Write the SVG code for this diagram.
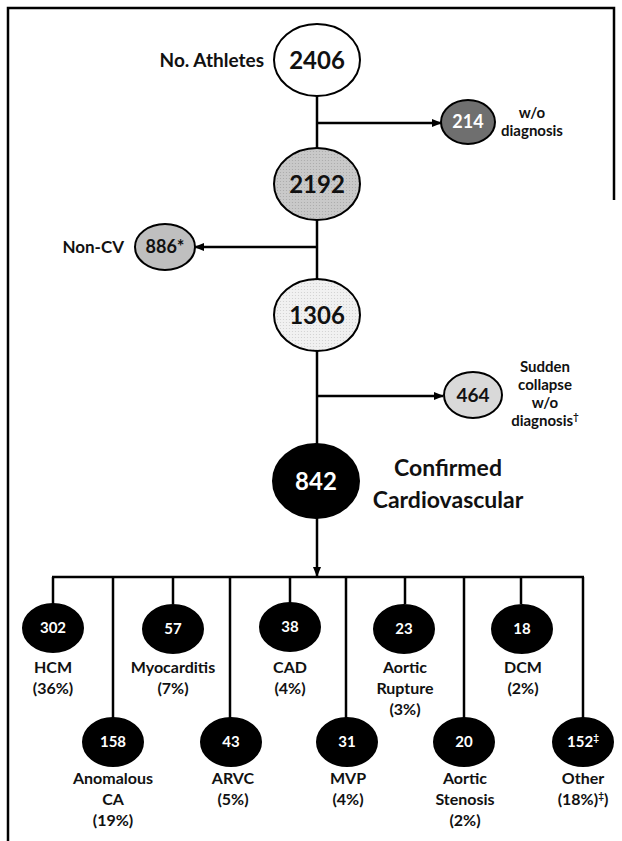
<svg xmlns="http://www.w3.org/2000/svg" width="622" height="841" viewBox="0 0 622 841">
<defs>
<marker id="arr" markerWidth="10" markerHeight="8" refX="9" refY="4" orient="auto" markerUnits="userSpaceOnUse">
<path d="M0,0 L10,4 L0,8 Z" fill="#000"/>
</marker>
<pattern id="dots" width="3" height="3" patternUnits="userSpaceOnUse">
<rect width="3" height="3" fill="#c9c9c9"/>
<circle cx="1.5" cy="1.5" r="0.6" fill="#a8a8a8"/>
</pattern>
<pattern id="dotsLight" width="3" height="3" patternUnits="userSpaceOnUse">
<rect width="3" height="3" fill="#f1f1f1"/>
<circle cx="1.5" cy="1.5" r="0.6" fill="#cfcfcf"/>
</pattern>
</defs>
<style>
text{font-family:Lato,"Open Sans","Liberation Sans",sans-serif;font-weight:bold;text-anchor:middle;fill:#111}
.big{font-size:24px}
.mid{font-size:18px}
.lab{font-size:16px}
.side{font-size:15px}
.sm{font-size:15px;fill:#fff}
.w{fill:#fff}
.node{stroke:#000;stroke-width:2}
.blk{fill:#000;stroke:#000;stroke-width:2}
.ln{stroke:#000;stroke-width:2.5;fill:none}
.sup{font-size:10px}
</style>
<rect width="622" height="841" fill="#fff"/>
<path d="M8,841 L8,8 L614,8 L614,200" stroke="#000" stroke-width="2.5" fill="none"/>

<g id="connectors">
<line class="ln" x1="317" y1="96" x2="317" y2="148"/>
<line class="ln" x1="317" y1="123" x2="441" y2="123" marker-end="url(#arr)"/>
<line class="ln" x1="317" y1="220" x2="317" y2="279"/>
<line class="ln" x1="317" y1="247" x2="195" y2="247" marker-end="url(#arr)"/>
<line class="ln" x1="317" y1="351" x2="317" y2="445"/>
<line class="ln" x1="317" y1="396" x2="443" y2="396" marker-end="url(#arr)"/>
<line class="ln" x1="317" y1="518" x2="317" y2="576" marker-end="url(#arr)"/>
<line class="ln" x1="52" y1="577" x2="584" y2="577"/>
<line class="ln" x1="53" y1="577" x2="53" y2="604"/>
<line class="ln" x1="173" y1="577" x2="173" y2="604"/>
<line class="ln" x1="290" y1="577" x2="290" y2="604"/>
<line class="ln" x1="405" y1="577" x2="405" y2="604"/>
<line class="ln" x1="521" y1="577" x2="521" y2="604"/>
<line class="ln" x1="113" y1="577" x2="113" y2="718"/>
<line class="ln" x1="230" y1="577" x2="230" y2="718"/>
<line class="ln" x1="346" y1="577" x2="346" y2="718"/>
<line class="ln" x1="464" y1="577" x2="464" y2="718"/>
<line class="ln" x1="583" y1="577" x2="583" y2="718"/>
</g>

<g id="n2406">
<ellipse class="node" cx="317" cy="60" rx="43" ry="36" fill="#fff"/>
<text class="big" x="317" y="69">2406</text>
<text x="264" y="67" style="text-anchor:end;font-size:19px">No. Athletes</text>
</g>
<g id="n214">
<ellipse class="node" cx="468" cy="122" rx="27" ry="22" fill="#6f6f6f"/>
<text class="mid w" x="468" y="128">214</text>
<text class="side" x="532" y="118">w/o</text>
<text class="side" x="532" y="136">diagnosis</text>
</g>
<g id="n2192">
<ellipse class="node" cx="317" cy="184" rx="43" ry="36" fill="url(#dots)"/>
<text class="big" x="317" y="193">2192</text>
</g>
<g id="n886">
<ellipse class="node" cx="165" cy="247" rx="30" ry="23" fill="#bfbfbf"/>
<text class="mid" x="165" y="253">886*</text>
<text class="mid" x="124" y="253" style="text-anchor:end;font-size:17px">Non-CV</text>
</g>
<g id="n1306">
<ellipse class="node" cx="317" cy="315" rx="43" ry="36" fill="url(#dotsLight)"/>
<text class="big" x="317" y="324">1306</text>
</g>
<g id="n464">
<ellipse class="node" cx="473" cy="395" rx="29" ry="23" fill="#d9d9d9"/>
<text class="mid" x="473" y="402" style="font-size:19px">464</text>
<text class="side" x="545" y="372">Sudden</text>
<text class="side" x="545" y="390">collapse</text>
<text class="side" x="545" y="408">w/o</text>
<text class="side" x="545" y="426">diagnosis<tspan class="sup" dy="-6">†</tspan></text>
</g>
<g id="n842">
<ellipse class="blk" cx="316" cy="481" rx="43" ry="37"/>
<text class="big w" x="316" y="490">842</text>
<text x="448" y="476" style="font-size:23px">Confirmed</text>
<text x="448" y="508" style="font-size:23px">Cardiovascular</text>
</g>

<g id="n302">
<ellipse class="blk" cx="53" cy="628" rx="30" ry="24"/>
<text class="sm" x="53" y="633">302</text>
<text class="lab" x="53" y="673">HCM</text>
<text class="lab" x="53" y="694">(36%)</text>
</g>
<g id="n158">
<ellipse class="blk" cx="113" cy="742" rx="30" ry="24"/>
<text class="sm" x="113" y="747">158</text>
<text class="lab" x="113" y="784">Anomalous</text>
<text class="lab" x="113" y="805">CA</text>
<text class="lab" x="113" y="826">(19%)</text>
</g>
<g id="n57">
<ellipse class="blk" cx="173" cy="629" rx="30" ry="24"/>
<text class="sm" x="173" y="634">57</text>
<text class="lab" x="173" y="673">Myocarditis</text>
<text class="lab" x="173" y="694">(7%)</text>
</g>
<g id="n43">
<ellipse class="blk" cx="231" cy="742" rx="30" ry="24"/>
<text class="sm" x="231" y="747">43</text>
<text class="lab" x="233" y="784">ARVC</text>
<text class="lab" x="233" y="805">(5%)</text>
</g>
<g id="n38">
<ellipse class="blk" cx="290" cy="627" rx="30" ry="24"/>
<text class="sm" x="290" y="632">38</text>
<text class="lab" x="290" y="673">CAD</text>
<text class="lab" x="290" y="694">(4%)</text>
</g>
<g id="n31">
<ellipse class="blk" cx="347" cy="742" rx="30" ry="24"/>
<text class="sm" x="347" y="747">31</text>
<text class="lab" x="348" y="784">MVP</text>
<text class="lab" x="348" y="805">(4%)</text>
</g>
<g id="n23">
<ellipse class="blk" cx="404" cy="629" rx="30" ry="24"/>
<text class="sm" x="404" y="634">23</text>
<text class="lab" x="405" y="673">Aortic</text>
<text class="lab" x="405" y="694">Rupture</text>
<text class="lab" x="405" y="715">(3%)</text>
</g>
<g id="n20">
<ellipse class="blk" cx="464" cy="742" rx="30" ry="24"/>
<text class="sm" x="464" y="747">20</text>
<text class="lab" x="465" y="784">Aortic</text>
<text class="lab" x="465" y="805">Stenosis</text>
<text class="lab" x="465" y="826">(2%)</text>
</g>
<g id="n18">
<ellipse class="blk" cx="522" cy="629" rx="30" ry="24"/>
<text class="sm" x="522" y="634">18</text>
<text class="lab" x="523" y="673">DCM</text>
<text class="lab" x="523" y="694">(2%)</text>
</g>
<g id="n152">
<ellipse class="blk" cx="583" cy="742" rx="30" ry="24"/>
<text class="sm" x="583" y="747">152<tspan class="sup w" dy="-6">‡</tspan></text>
<text class="lab" x="583" y="784">Other</text>
<text class="lab" x="583" y="805">(18%)<tspan class="sup" dy="-6">‡</tspan><tspan dy="6">)</tspan></text>
</g>
</svg>
